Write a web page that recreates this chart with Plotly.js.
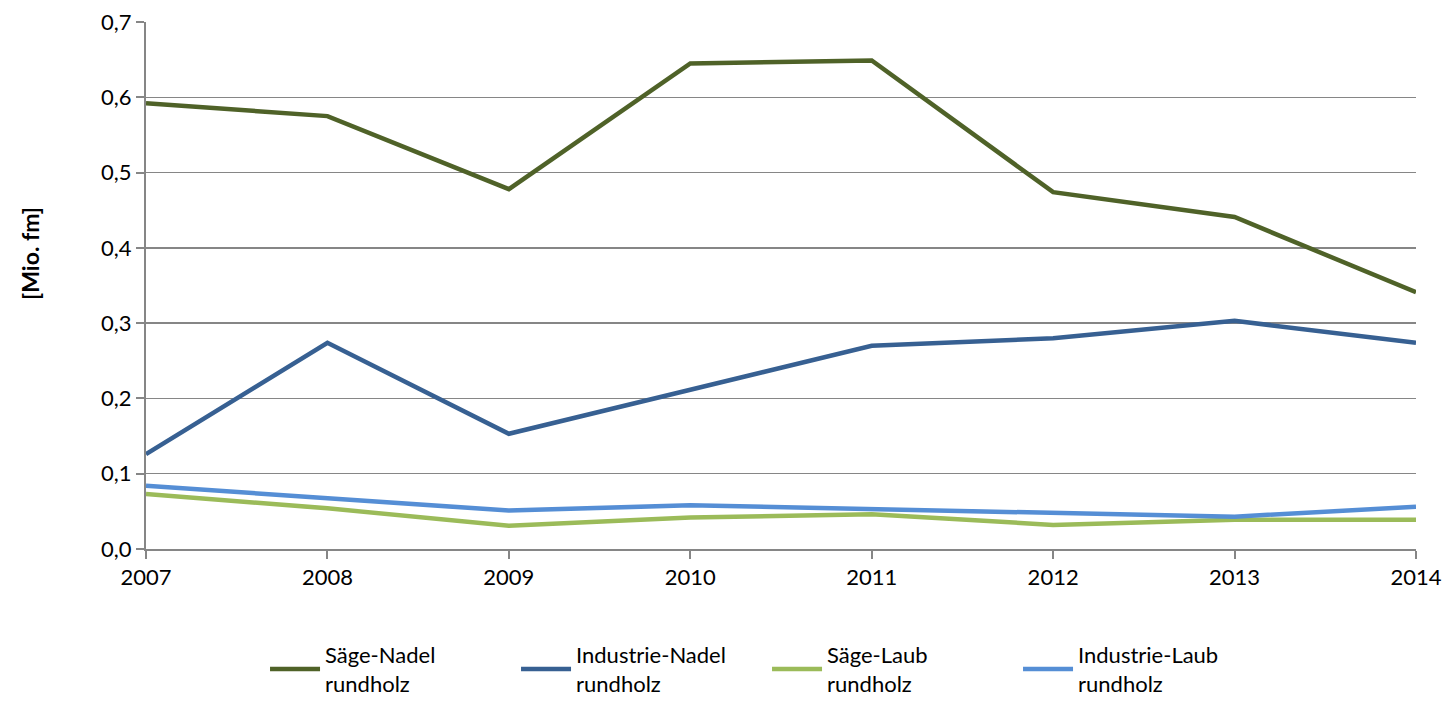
<!DOCTYPE html>
<html>
<head>
<meta charset="utf-8">
<script src="https://cdn.plot.ly/plotly-3.0.1.min.js"></script>
<style>html,body{margin:0;padding:0;background:#fff;}#chart{width:1447px;height:705px;}</style>
</head>
<body>
<div id="chart"></div>
<script>
const years = [2007, 2008, 2009, 2010, 2011, 2012, 2013, 2014];
const saegeNadel = [0.592, 0.575, 0.478, 0.645, 0.649, 0.474, 0.441, 0.341];
const industrieNadel = [0.126, 0.274, 0.153, 0.211, 0.270, 0.280, 0.303, 0.274];
const saegeLaub = [0.073, 0.054, 0.031, 0.042, 0.046, 0.032, 0.039, 0.039];
const industrieLaub = [0.084, 0.067, 0.051, 0.058, 0.053, 0.048, 0.043, 0.056];
const seriesNames = ["Säge-Nadel<br>rundholz", "Industrie-Nadel<br>rundholz", "Säge-Laub<br>rundholz", "Industrie-Laub<br>rundholz"];
const seriesColors = ["#4F6228", "#376092", "#9BBB59", "#558ED5"];
const yTicks = [0, 0.1, 0.2, 0.3, 0.4, 0.5, 0.6, 0.7];
const yTitle = "[Mio. fm]";

const font = "Lato, 'Open Sans', sans-serif";
const allSeries = [saegeNadel, industrieNadel, saegeLaub, industrieLaub];
const data = allSeries.map((vals, i) => ({
  x: years, y: vals, type: 'scatter', mode: 'lines', name: seriesNames[i],
  line: {color: seriesColors[i], width: 4.5}
}));

const layout = {
  width: 1447, height: 705,
  margin: {l: 146, r: 31, t: 22, b: 156},
  paper_bgcolor: '#fff', plot_bgcolor: '#fff',
  separators: ',.',
  font: {family: font, size: 22, color: '#000'},
  showlegend: true,
  legend: {orientation: 'h', x: 0.489, xanchor: 'center', xref: 'paper',
    y: 0.0, yanchor: 'bottom', yref: 'container',
    font: {family: font, size: 22, color: '#000'}, traceorder: 'normal', tracegroupgap: 0,
    entrywidth: 186, entrywidthmode: 'pixels', itemwidth: 50},
  xaxis: {
    range: [2007, 2014], tickvals: years, ticktext: years.map(String),
    showgrid: false, zeroline: false, showline: true, linecolor: '#868686', linewidth: 2,
    ticks: 'outside', ticklen: 8, tickcolor: '#868686', tickwidth: 2,
    tickfont: {family: font, size: 22}, fixedrange: true
  },
  yaxis: {
    range: [0, 0.7], tickvals: yTicks, tickformat: '.1f',
    showgrid: true, gridcolor: '#868686', gridwidth: 1.5, zeroline: false,
    showline: true, linecolor: '#868686', linewidth: 2,
    ticks: 'outside', ticklen: 8, tickcolor: '#868686', tickwidth: 2,
    tickfont: {family: font, size: 22}
  },
  annotations: [{
    text: '<b>' + yTitle + '</b>', textangle: -90, showarrow: false,
    xref: 'paper', yref: 'paper', x: -0.0913, y: 0.56, xanchor: 'center', yanchor: 'middle',
    font: {family: font, size: 23, color: '#000'}
  }]
};
Plotly.newPlot('chart', data, layout, {displayModeBar: false, staticPlot: true});
</script>
</body>
</html>
